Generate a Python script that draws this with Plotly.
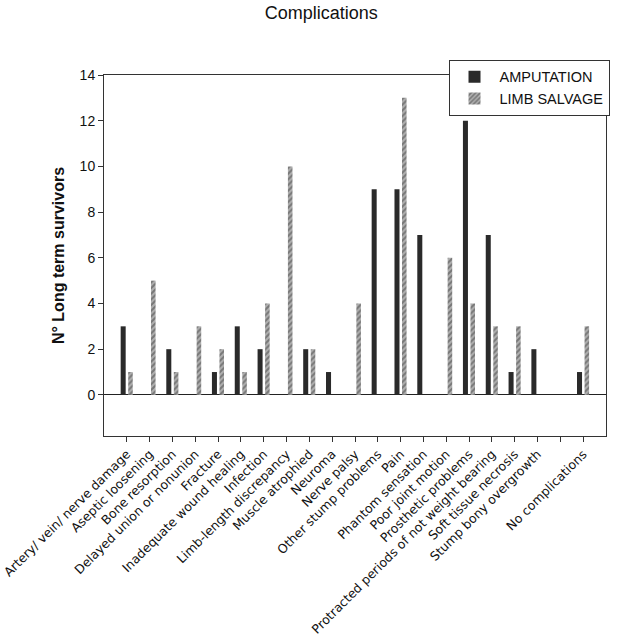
import plotly.graph_objects as go

categories = [
    "Artery/ vein/ nerve damage", "Aseptic loosening", "Bone resorption",
    "Delayed union or nonunion", "Fracture", "Inadequate wound healing",
    "Infection", "Limb-length discrepancy", "Muscle atrophied", "Neuroma",
    "Nerve palsy", "Other stump problems", "Pain", "Phantom sensation",
    "Poor joint motion", "Prosthetic problems",
    "Protracted periods of not weight bearing", "Soft tissue necrosis",
    "Stump bony overgrowth", "", "No complications",
]
amputation = [3, 0, 2, 0, 1, 3, 2, 0, 2, 1, 0, 9, 9, 7, 0, 12, 7, 1, 2, 0, 1]
limb_salvage = [1, 5, 1, 3, 2, 1, 4, 10, 2, 0, 4, 0, 13, 0, 6, 4, 3, 3, 0, 0, 3]
y_ticks = [0, 2, 4, 6, 8, 10, 12, 14]

idx = list(range(len(categories)))

fig = go.Figure()
fig.add_trace(go.Bar(
    x=idx, y=amputation, name="AMPUTATION",
    offset=-0.27, width=0.22,
    marker=dict(color="#2a2a2a", line=dict(width=0)),
))
fig.add_trace(go.Bar(
    x=idx, y=limb_salvage, name="LIMB SALVAGE",
    offset=0.06, width=0.2,
    marker=dict(color="#9a9a9a", line=dict(width=0),
                pattern=dict(shape="/", fgcolor="#3e3e3e", bgcolor="#b0b0b0",
                             size=4, solidity=0.5)),
))

fig.update_layout(
    width=624, height=637,
    margin=dict(l=104, r=18, t=75, b=201, autoexpand=False),
    paper_bgcolor="white", plot_bgcolor="white",
    barmode="overlay",
    title=dict(text="Complications", x=0.515, xanchor="center",
               y=1 - 13 / 637, yanchor="middle", yref="container",
               font=dict(family="Liberation Sans, Arial", size=18, color="#111")),
    showlegend=True,
    legend=dict(x=1.007, xanchor="right", y=1.042, yanchor="top",
                bgcolor="white", bordercolor="#333", borderwidth=1,
                font=dict(family="Liberation Sans, Arial", size=14.5, color="#111"),
                itemwidth=40, tracegroupgap=0),
    xaxis=dict(
        range=[-1, 21], tickmode="array", tickvals=idx, ticktext=categories,
        tickangle=-45, ticks="outside", ticklen=5, tickcolor="#333",
        showline=True, linecolor="#333", linewidth=1, mirror=True,
        showgrid=False, zeroline=False, automargin=False,
        ticklabeloverflow="allow",
        tickfont=dict(family="DejaVu Sans, Verdana", size=12.5, color="#111"),
    ),
    yaxis=dict(
        range=[-1.8, 14], tickmode="array", tickvals=y_ticks,
        ticks="outside", ticklen=5, tickcolor="#333",
        showline=True, linecolor="#333", linewidth=1, mirror=True,
        showgrid=False, zeroline=True, zerolinecolor="#222", zerolinewidth=1,
        automargin=False,
        tickfont=dict(family="Liberation Sans, Arial", size=14, color="#111"),
        title=dict(text="N° Long term survivors", standoff=11,
                   font=dict(family="Liberation Sans, Arial", size=16, color="#111",
                             weight="bold")),
    ),
)

fig.write_html("out.html", config={"displayModeBar": False},
               post_script="document.body.style.margin='0';document.body.style.overflow='hidden';")
